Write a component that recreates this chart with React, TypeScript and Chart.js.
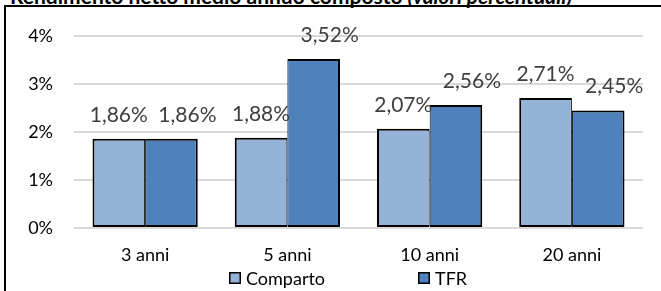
import React, { useEffect, useRef } from "react";
import { Chart, registerables } from "chart.js";

Chart.register(...registerables);

const categories = ["3 anni", "5 anni", "10 anni", "20 anni"];
const seriesNames = ["Comparto", "TFR"];
const comparto = [1.86, 1.88, 2.07, 2.71];
const tfr = [1.86, 3.52, 2.56, 2.45];
const yTicks = [0, 1, 2, 3, 4];

const FONT = "Lato, 'Noto Sans', sans-serif";
const COLORS = ["#95B3D7", "#4F81BD"];
const LABEL_DX = [0, 16];

const fmt = (v: number) => v.toFixed(2).replace(".", ",") + "%";

const dataLabels = {
  id: "dataLabels",
  afterDatasetsDraw(chart: any) {
    const ctx = chart.ctx;
    ctx.save();
    ctx.font = `21px ${FONT}`;
    ctx.fillStyle = "#404040";
    ctx.textAlign = "center";
    ctx.textBaseline = "alphabetic";
    chart.data.datasets.forEach((ds: any, di: number) => {
      const meta = chart.getDatasetMeta(di);
      meta.data.forEach((bar: any, i: number) => {
        ctx.fillText(fmt(ds.data[i]), bar.x + LABEL_DX[di], bar.y - 17);
      });
    });
    ctx.restore();
  },
};

const customLegend = {
  id: "customLegend",
  afterDraw(chart: any) {
    const ctx = chart.ctx;
    ctx.save();
    ctx.font = `18px ${FONT}`;
    ctx.textBaseline = "middle";
    ctx.textAlign = "left";
    const starts = [229, 418];
    const cy = 278;
    chart.data.datasets.forEach((ds: any, di: number) => {
      const x = starts[di];
      ctx.fillStyle = ds.backgroundColor;
      ctx.fillRect(x, cy - 6, 12, 12);
      ctx.strokeStyle = "#000";
      ctx.lineWidth = 1.5;
      ctx.strokeRect(x + 0.75, cy - 5.25, 10.5, 10.5);
      ctx.fillStyle = "#000";
      ctx.fillText(ds.label, x + 17, cy + 1);
    });
    ctx.restore();
  },
};

export default function App() {
  const ref = useRef<HTMLCanvasElement>(null);
  useEffect(() => {
    if (!ref.current) return;
    const chart = new Chart(ref.current, {
      type: "bar",
      data: {
        labels: categories,
        datasets: [
          {
            label: seriesNames[0],
            data: comparto,
            backgroundColor: COLORS[0],
            borderColor: "#000",
            borderWidth: { left: 2, top: 2, bottom: 2, right: 1 },
            borderSkipped: false,
            categoryPercentage: 0.74,
            barPercentage: 1,
          },
          {
            label: seriesNames[1],
            data: tfr,
            backgroundColor: COLORS[1],
            borderColor: "#000",
            borderWidth: { left: 1, top: 2, bottom: 2, right: 2 },
            borderSkipped: false,
            categoryPercentage: 0.74,
            barPercentage: 1,
          },
        ],
      },
      options: {
        responsive: false,
        devicePixelRatio: 1,
        animation: false,
        layout: { padding: { top: 36, right: 18, bottom: 0, left: 0 } },
        plugins: {
          legend: { display: false },
          tooltip: { enabled: false },
        },
        scales: {
          x: {
            grid: { display: false, drawTicks: false },
            border: { display: false },
            ticks: { font: { family: FONT, size: 18 }, color: "#000", padding: 16 },
            afterFit(scale: any) {
              scale.height = 63;
            },
          },
          y: {
            min: 0,
            max: 4,
            afterBuildTicks(scale: any) {
              scale.ticks = yTicks.map((v) => ({ value: v }));
            },
            grid: { color: "#d9d9d9", lineWidth: 2, drawTicks: false },
            border: { display: false },
            ticks: {
              font: { family: FONT, size: 18 },
              color: "#000",
              padding: 21,
              callback: (v: any) => v + "%",
            },
            afterFit(scale: any) {
              scale.width = 74;
            },
          },
        },
      },
      plugins: [dataLabels, customLegend],
    });
    return () => chart.destroy();
  }, []);

  return (
    <div
      style={{
        position: "fixed",
        left: 0,
        top: 0,
        width: 661,
        height: 291,
        overflow: "hidden",
        background: "#fff",
      }}
    >
      <div
        style={{
          position: "absolute",
          left: 4,
          top: 5,
          width: 800,
          height: 400,
          borderTop: "2px solid #000",
          borderLeft: "2px solid #000",
        }}
      />
      <div
        style={{
          position: "absolute",
          left: 10,
          top: -15,
          whiteSpace: "nowrap",
          fontFamily: FONT,
          fontSize: 21,
          lineHeight: "21px",
          fontWeight: 700,
          color: "#000",
        }}
      >
        Rendimento netto medio annuo composto{" "}
        <span style={{ fontStyle: "italic" }}>(valori percentuali)</span>
      </div>
      <canvas
        ref={ref}
        width={661}
        height={291}
        style={{ position: "absolute", left: 0, top: 0, width: 661, height: 291 }}
      />
    </div>
  );
}
